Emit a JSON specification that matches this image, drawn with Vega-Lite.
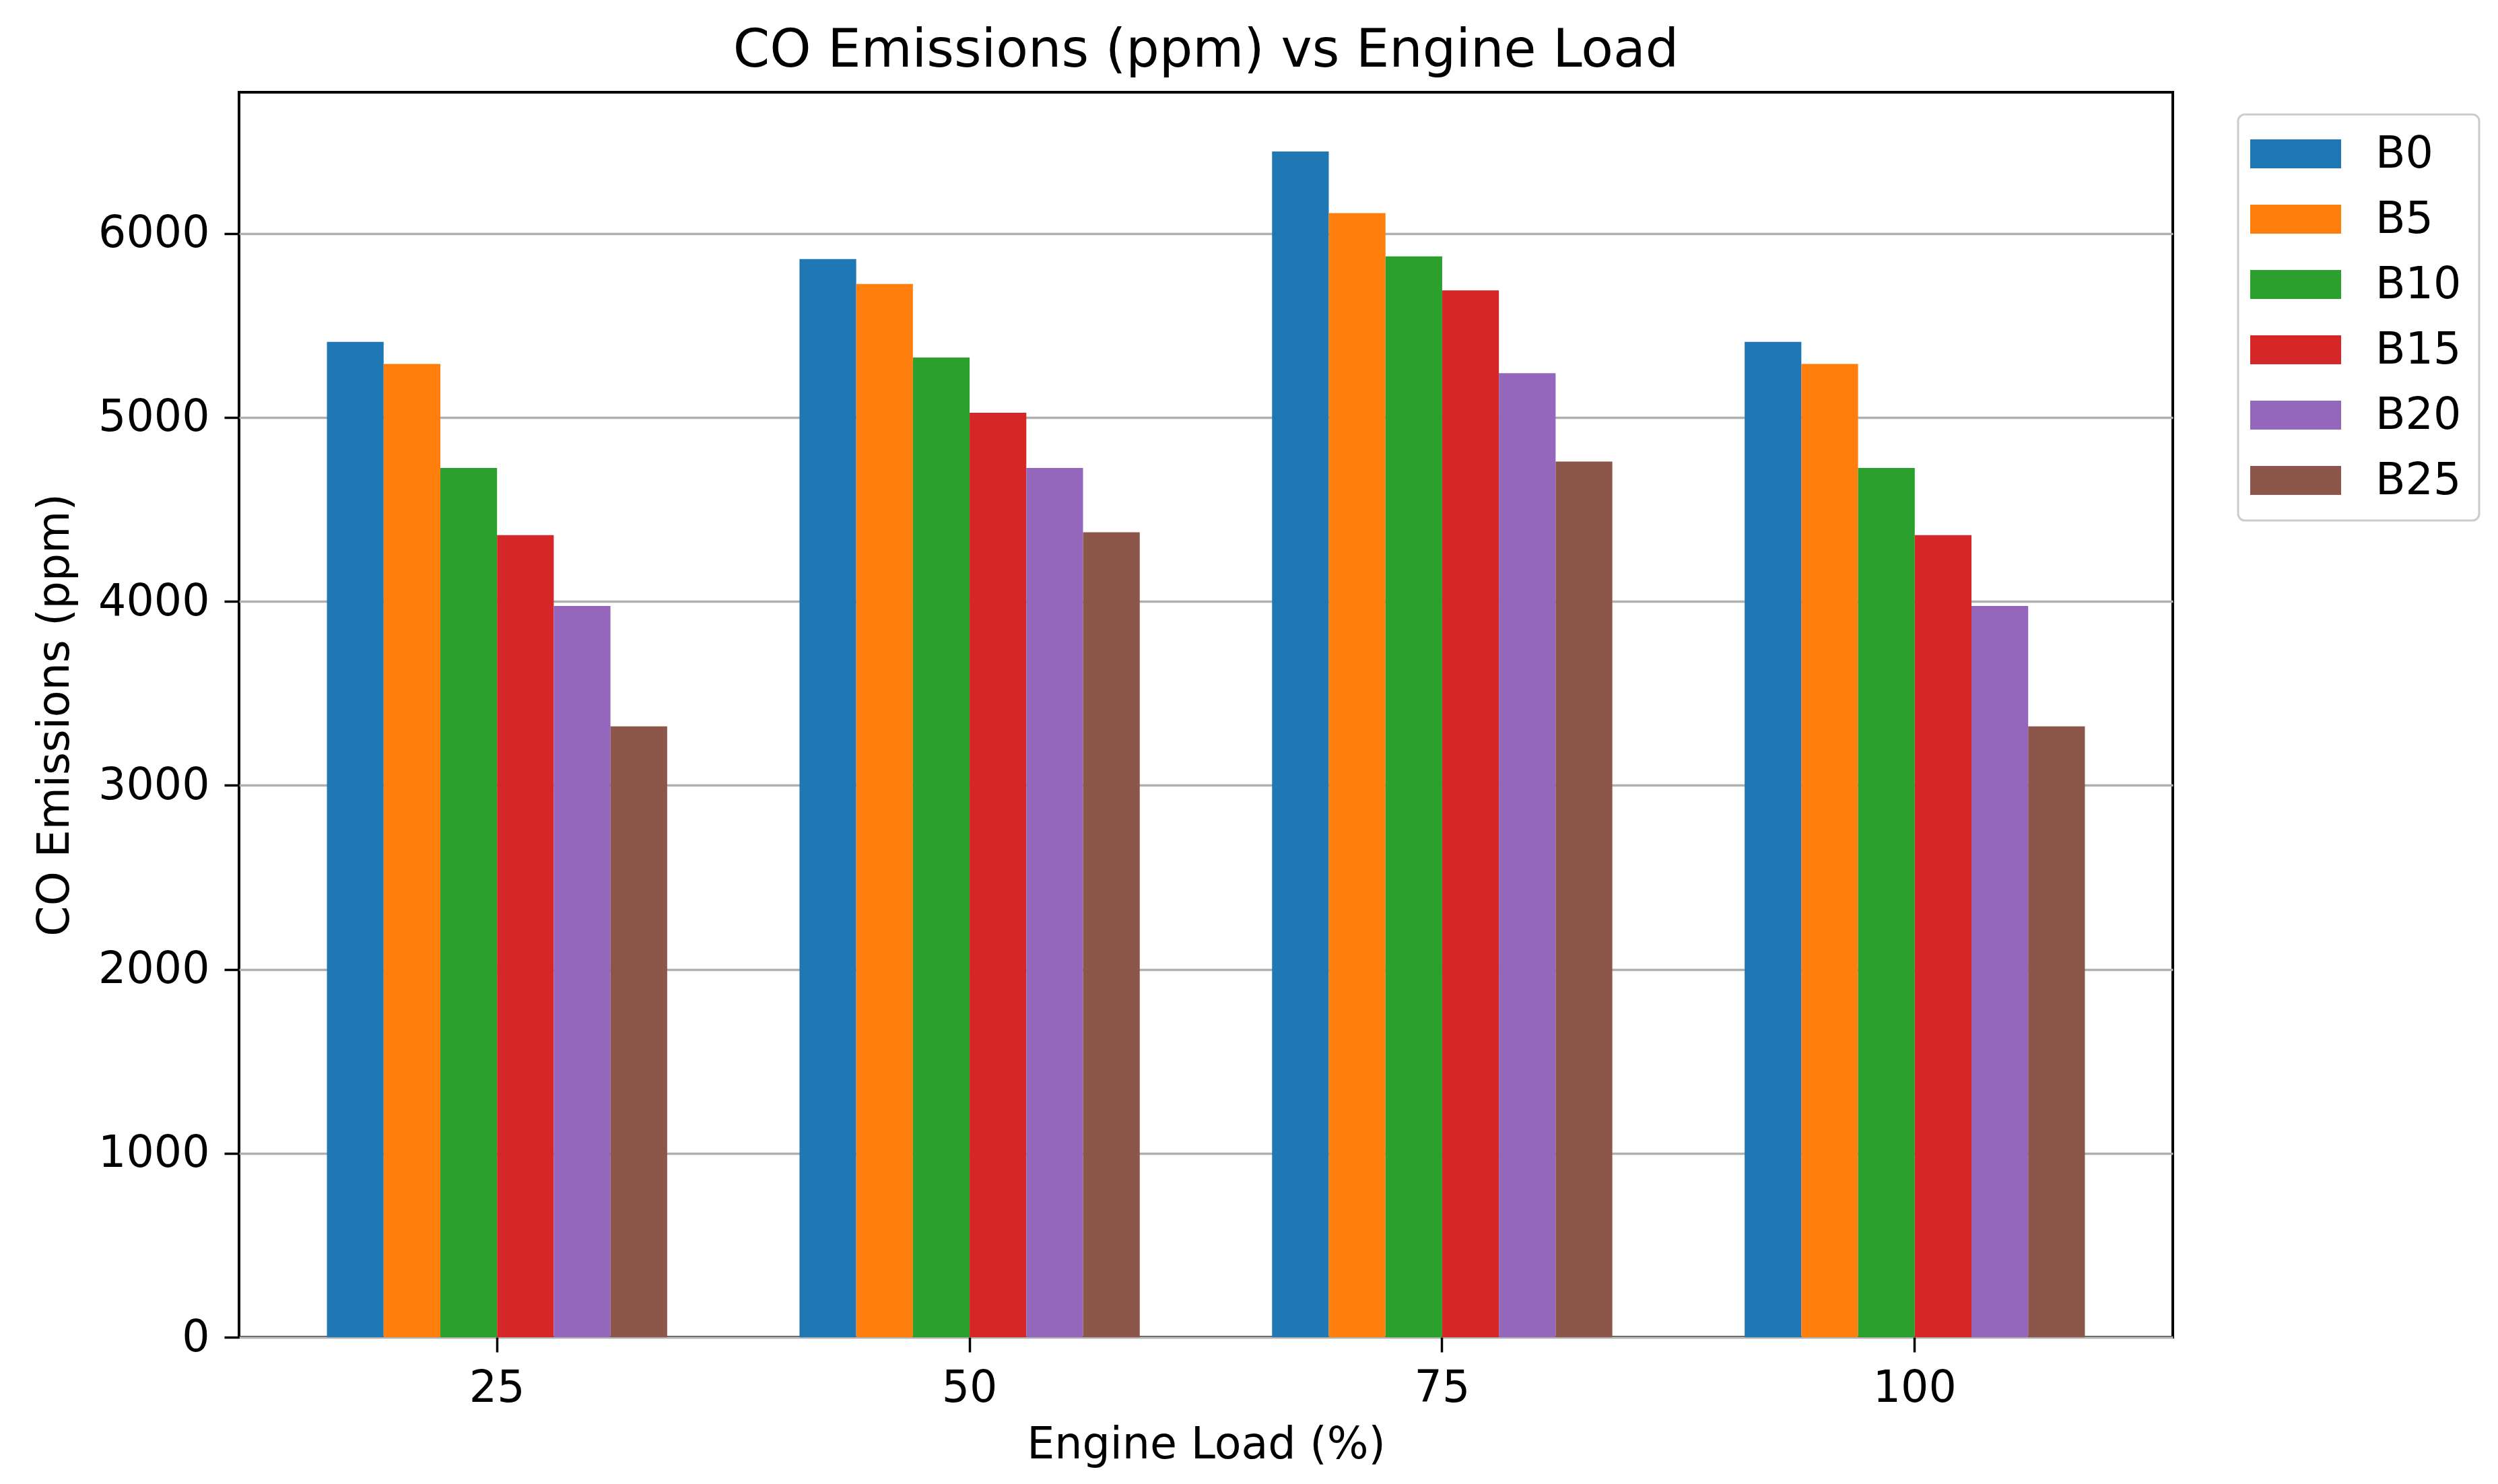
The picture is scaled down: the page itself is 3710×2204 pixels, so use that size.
{
  "$schema": "https://vega.github.io/schema/vega-lite/v6.json",
  "width": 2872,
  "height": 1849,
  "autosize": {"type": "none"},
  "padding": {"left": 355, "top": 137, "right": 483, "bottom": 218},
  "background": "white",
  "title": {
    "text": "CO Emissions (ppm) vs Engine Load",
    "font": "DejaVu Sans",
    "fontSize": 78,
    "fontWeight": "normal",
    "color": "black",
    "anchor": "middle",
    "offset": 22
  },
  "data": {
    "values": [
      {"load": 25, "fuel": "B0", "co": 5410},
      {"load": 25, "fuel": "B5", "co": 5290},
      {"load": 25, "fuel": "B10", "co": 4725},
      {"load": 25, "fuel": "B15", "co": 4360},
      {"load": 25, "fuel": "B20", "co": 3975},
      {"load": 25, "fuel": "B25", "co": 3320},
      {"load": 50, "fuel": "B0", "co": 5860},
      {"load": 50, "fuel": "B5", "co": 5725},
      {"load": 50, "fuel": "B10", "co": 5325},
      {"load": 50, "fuel": "B15", "co": 5025},
      {"load": 50, "fuel": "B20", "co": 4725},
      {"load": 50, "fuel": "B25", "co": 4375},
      {"load": 75, "fuel": "B0", "co": 6445},
      {"load": 75, "fuel": "B5", "co": 6110},
      {"load": 75, "fuel": "B10", "co": 5875},
      {"load": 75, "fuel": "B15", "co": 5690},
      {"load": 75, "fuel": "B20", "co": 5240},
      {"load": 75, "fuel": "B25", "co": 4760},
      {"load": 100, "fuel": "B0", "co": 5410},
      {"load": 100, "fuel": "B5", "co": 5290},
      {"load": 100, "fuel": "B10", "co": 4725},
      {"load": 100, "fuel": "B15", "co": 4360},
      {"load": 100, "fuel": "B20", "co": 3975},
      {"load": 100, "fuel": "B25", "co": 3320}
    ]
  },
  "mark": {"type": "bar"},
  "encoding": {
    "x": {
      "field": "load",
      "type": "ordinal",
      "title": "Engine Load (%)",
      "scale": {"paddingInner": 0.28, "paddingOuter": 0.186},
      "axis": {"labelAngle": 0, "grid": false, "titlePadding": 20}
    },
    "xOffset": {
      "field": "fuel",
      "type": "nominal",
      "sort": ["B0", "B5", "B10", "B15", "B20", "B25"],
      "scale": {"paddingInner": 0, "paddingOuter": 0}
    },
    "y": {
      "field": "co",
      "type": "quantitative",
      "title": "CO Emissions (ppm)",
      "scale": {"domain": [0, 6767], "nice": false},
      "axis": {
        "values": [0, 1000, 2000, 3000, 4000, 5000, 6000],
        "format": "d",
        "labelLimit": 0,
        "grid": true,
        "titlePadding": 40
      }
    },
    "color": {
      "field": "fuel",
      "type": "nominal",
      "sort": ["B0", "B5", "B10", "B15", "B20", "B25"],
      "scale": {
        "domain": ["B0", "B5", "B10", "B15", "B20", "B25"],
        "range": ["#1f77b4", "#ff7f0e", "#2ca02c", "#d62728", "#9467bd", "#8c564b"]
      },
      "legend": {
        "title": null,
        "orient": "none",
        "legendX": 2969,
        "legendY": 33,
        "symbolType": "M-3.14,-1H3.14V1H-3.14Z",
        "symbolSize": 1849,
        "symbolOffset": 27,
        "symbolStrokeWidth": 0,
        "symbolOpacity": 1,
        "labelFont": "DejaVu Sans",
        "labelFontSize": 65,
        "labelColor": "black",
        "labelOffset": 86,
        "rowPadding": 31,
        "padding": 26,
        "strokeColor": "#cccccc",
        "cornerRadius": 10,
        "fillColor": "white",
        "encode": {"legend": {"update": {"strokeWidth": {"value": 3}}}}
      }
    }
  },
  "config": {
    "view": {"stroke": "black", "strokeWidth": 4},
    "axis": {
      "domain": false,
      "ticks": true,
      "tickColor": "black",
      "tickWidth": 3.5,
      "tickSize": 22,
      "labelPadding": 22,
      "labelFont": "DejaVu Sans",
      "labelFontSize": 65,
      "labelColor": "black",
      "titleFont": "DejaVu Sans",
      "titleFontSize": 65,
      "titleFontWeight": "normal",
      "titleColor": "black",
      "gridColor": "#b0b0b0",
      "gridWidth": 3.5,
      "zindex": 1
    }
  }
}
